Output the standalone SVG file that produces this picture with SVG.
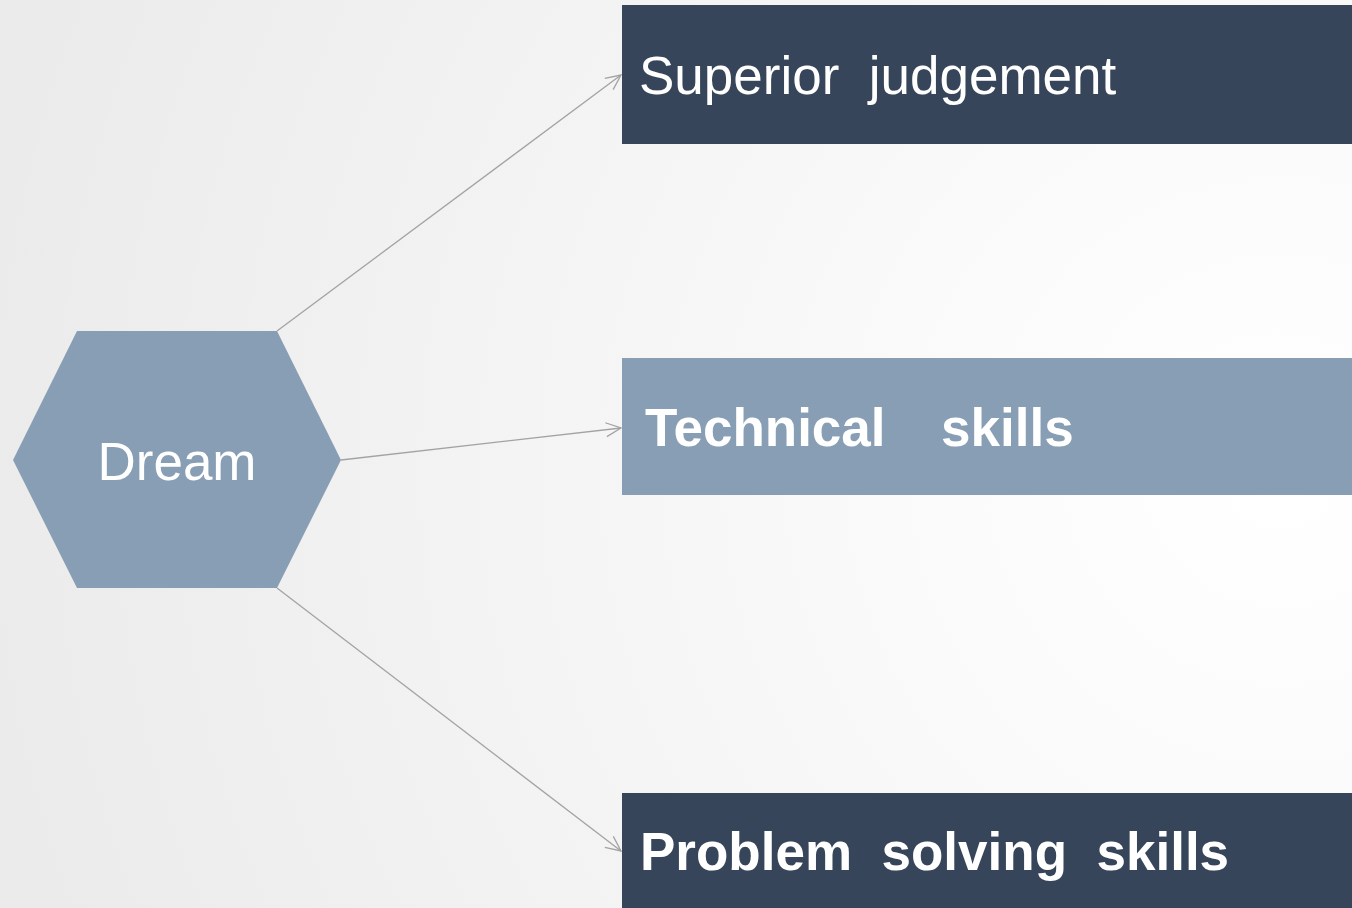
<svg xmlns="http://www.w3.org/2000/svg" width="1352" height="908" viewBox="0 0 1352 908">
<style>
.lbl{font-family:"Liberation Sans",Arial,sans-serif;font-size:53px;fill:#ffffff}
.b{font-weight:bold}
.conn{stroke:#a3a3a3;stroke-width:1.3;fill:none}
</style>
<defs>
<radialGradient id="bg" cx="1280" cy="470" r="1300" gradientUnits="userSpaceOnUse">
<stop offset="0" stop-color="#ffffff"/>
<stop offset="0.3" stop-color="#fafafa"/>
<stop offset="1" stop-color="#ebebeb"/>
</radialGradient>
<marker id="arr" markerWidth="20" markerHeight="20" refX="16" refY="8" orient="auto" markerUnits="userSpaceOnUse">
<path d="M1,1 L16,8 L1,15" fill="none" stroke="#a3a3a3" stroke-width="1.3"/>
</marker>
</defs>
<rect width="1352" height="908" fill="url(#bg)"/>
<g id="connectors">
<line class="conn" x1="277" y1="331" x2="621" y2="75" marker-end="url(#arr)"/>
<line class="conn" x1="341" y1="460" x2="621" y2="428" marker-end="url(#arr)"/>
<line class="conn" x1="277" y1="588" x2="621" y2="851" marker-end="url(#arr)"/>
</g>
<g id="dream">
<polygon points="13,460 77,331 277,331 341,460 277,588 77,588" fill="#889eb5"/>
<text class="lbl" x="177" y="480" text-anchor="middle">Dream</text>
</g>
<g id="superior">
<rect x="622" y="5" width="730" height="139" fill="#364559"/>
<text class="lbl" x="639" y="94" xml:space="preserve">Superior  judgement</text>
</g>
<g id="technical">
<rect x="622" y="358" width="730" height="137" fill="#889eb5"/>
<text class="lbl b" x="645" y="446" xml:space="preserve">Technical   <tspan x="941">skills</tspan></text>
</g>
<g id="problem">
<rect x="622" y="793" width="730" height="115" fill="#364559"/>
<text class="lbl b" x="640" y="870" xml:space="preserve">Problem  solving  skills</text>
</g>
</svg>
